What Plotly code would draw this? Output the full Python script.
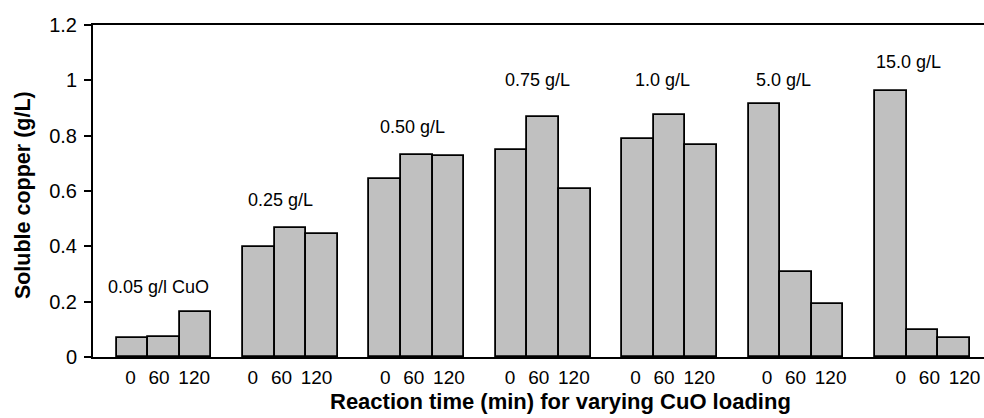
import plotly.graph_objects as go

# ---- data ----
loadings = ["0.05 g/l CuO", "0.25 g/L", "0.50 g/L", "0.75 g/L", "1.0 g/L", "5.0 g/L", "15.0 g/L"]
times = ["0", "60", "120"]
copper_0 = [0.069, 0.399, 0.643, 0.748, 0.788, 0.914, 0.961]
copper_60 = [0.071, 0.467, 0.730, 0.867, 0.873, 0.306, 0.099]
copper_120 = [0.162, 0.445, 0.726, 0.609, 0.765, 0.191, 0.069]
y_ticks = [0, 0.2, 0.4, 0.6, 0.8, 1.0, 1.2]

series = [copper_0, copper_60, copper_120]

# ---- layout helpers ----
SLOT = 4          # 3 bars + 1 gap per group
PX = 1 / 31.6     # one pixel in x data units
group_label_shift = [-2.5, -6.5, -0.5, -2, -3, 2, 9.5]   # px, tick text placement
time_label_shift = [0.5, -2.5, 1]                        # px

xs, ys, tickvals, ticktext = [], [], [], []
for g in range(len(loadings)):
    for b, vals in enumerate(series):
        x = g * SLOT + b
        xs.append(x)
        ys.append(vals[g])
        tickvals.append(x + (group_label_shift[g] + time_label_shift[b]) * PX)
        ticktext.append(times[b])

FONT = "Liberation Sans, Arial, Helvetica, sans-serif"

fig = go.Figure()
fig.add_trace(go.Bar(
    x=xs, y=ys, width=1,
    marker=dict(color="#c0c0c0", line=dict(color="black", width=1.8)),
    showlegend=False, hoverinfo="y",
))

# label placement (offset from group centre, height in data units)
label_pos = [(-0.19, 0.253), (-0.30, 0.567), (-0.14, 0.832), (-0.17, 1.0),
             (-0.23, 1.0), (-0.40, 1.0), (-0.43, 1.067)]
for g, (name, (dx, ly)) in enumerate(zip(loadings, label_pos)):
    fig.add_annotation(x=g * SLOT + 1 + dx, y=ly, xref="x", yref="y", text=name,
                       showarrow=False, xanchor="center", yanchor="middle",
                       font=dict(family=FONT, size=18, color="black"))

fig.add_annotation(x=-0.0786, y=0.4875, xref="paper", yref="paper",
                   text="<b>Soluble copper (g/L)</b>", textangle=-90, showarrow=False,
                   xanchor="center", yanchor="middle",
                   font=dict(family=FONT, size=21.5, color="black"))
fig.add_annotation(x=0.5247, y=-0.133, xref="paper", yref="paper",
                   text="<b>Reaction time (min) for varying CuO loading</b>", showarrow=False,
                   xanchor="center", yanchor="middle",
                   font=dict(family=FONT, size=22, color="black"))

fig.update_layout(
    width=984, height=418,
    margin=dict(l=93, r=0, t=25, b=61, autoexpand=False),
    paper_bgcolor="white", plot_bgcolor="white",
    font=dict(family=FONT, color="black"),
    bargap=0,
    xaxis=dict(range=[-1.25, 26.95], tickmode="array", tickvals=tickvals, ticktext=ticktext,
               showline=True, mirror=True, linecolor="black", linewidth=2,
               showgrid=False, zeroline=False, ticks="", tickangle=0, automargin=False,
               tickfont=dict(family=FONT, size=19, color="black"), ticklabelstandoff=2),
    yaxis=dict(range=[0, 1.2], tickmode="array", tickvals=y_ticks,
               ticktext=[("%g" % v) for v in y_ticks], automargin=False,
               showline=True, linecolor="black", linewidth=2,
               ticks="outside", ticklen=7, tickwidth=2, tickcolor="black",
               showgrid=False, zeroline=False,
               tickfont=dict(family=FONT, size=20, color="black"), ticklabelstandoff=3),
)

fig.write_html("out.html", config={"displayModeBar": False},
               post_script="document.body.style.margin='0';document.body.style.overflow='hidden';")
